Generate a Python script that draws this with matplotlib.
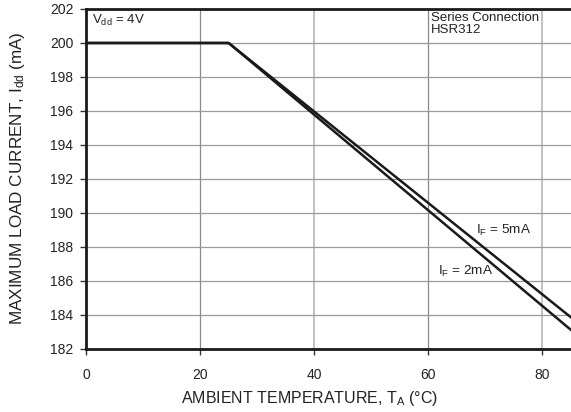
import matplotlib
matplotlib.use("Agg")
import matplotlib.pyplot as plt

plt.rcParams['font.family'] = ['Liberation Sans', 'DejaVu Sans']
plt.rcParams['mathtext.fontset'] = 'custom'
plt.rcParams['mathtext.rm'] = 'Liberation Sans'
plt.rcParams['mathtext.it'] = 'Liberation Sans'

# Data
temp_5mA = [0, 25, 85]
curr_5mA = [200, 200, 183.86]
temp_2mA = [0, 25, 85]
curr_2mA = [200, 200, 183.12]
xticks = [0, 20, 40, 60, 80]
yticks = [182, 184, 186, 188, 190, 192, 194, 196, 198, 200, 202]

W, H = 571, 412
fig = plt.figure(figsize=(W/100, H/100), dpi=100)
ax = fig.add_axes([86/W, 1-349/H, (W-86)/W, (349-9)/H])

ax.set_xlim(0, 85)
ax.set_ylim(182, 202)
ax.set_xticks(xticks)
ax.set_yticks(yticks)
for x in [20, 60]:
    ax.axvline(x, color='#8a8a8a', lw=0.9, zorder=1)
for x in [40, 80]:
    ax.axvline(x, color='#b8b8b8', lw=1.2, zorder=1)
for y in yticks[1:-1]:
    ax.axhline(y, color='#9a9a9a', lw=0.9, zorder=1)

ax.plot(temp_5mA, curr_5mA, color='#1a1a1a', lw=1.8, zorder=3)
ax.plot(temp_2mA, curr_2mA, color='#1a1a1a', lw=1.8, zorder=3)

for s in ['left', 'top', 'bottom']:
    ax.spines[s].set_linewidth(2.0)
    ax.spines[s].set_color('#1a1a1a')
ax.spines['right'].set_visible(False)

ax.tick_params(axis='both', labelsize=10, color='#333333', length=4, width=1, labelcolor='#222222')
ax.tick_params(axis='y', pad=5)
ax.tick_params(axis='x', pad=10)

fig.text(309.5/W, 1-398/H, r'AMBIENT TEMPERATURE, T$_{\mathregular{A}}$ ($\degree$C)',
         fontsize=11.5, color='#222222', ha='center', va='center')
fig.text(18/W, 1-178/H, r'MAXIMUM LOAD CURRENT, I$_{\mathregular{dd}}$ (mA)',
         fontsize=12.3, color='#222222', ha='center', va='center', rotation=90)

ax.text(1.0, 201.35, r'V$_{\mathregular{dd}}$ = 4V', fontsize=9.5, color='#222222', va='center', ha='left')
ax.text(60.4, 201.8, 'Series Connection\nHSR312', fontsize=9.5, color='#222222', va='top', ha='left', linespacing=1.0)
ax.text(68.4, 188.96, r'I$_{\mathregular{F}}$ = 5mA', fontsize=9.7, color='#222222', va='center', ha='left')
ax.text(61.7, 186.55, r'I$_{\mathregular{F}}$ = 2mA', fontsize=9.7, color='#222222', va='center', ha='left')

fig.savefig('out.png', dpi=100)
